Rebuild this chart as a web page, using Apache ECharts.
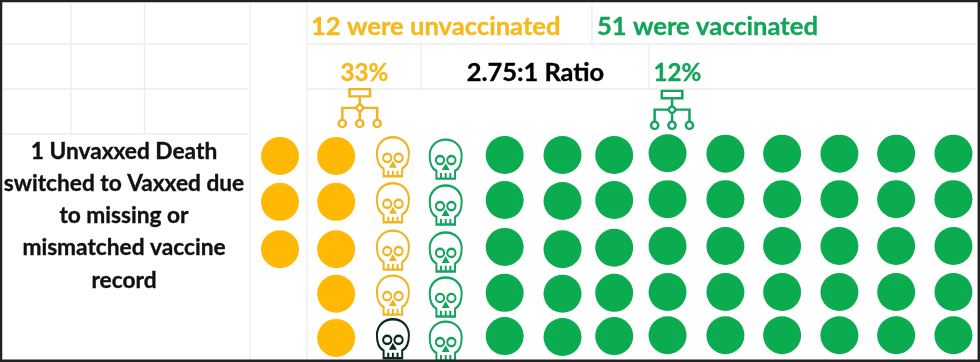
<!DOCTYPE html>
<html>
<head>
<meta charset="utf-8">
<style>html,body{margin:0;padding:0;background:#fff}#c{width:980px;height:362px}</style>
<script src="https://cdn.jsdelivr.net/npm/echarts@6/dist/echarts.min.js"></script>
</head>
<body>
<div id="c"></div>
<script>
// Seat layout of the pictogram: fractional column / row of each seat
const columnSeats = [0, 1, 2.01, 2.95, 4, 5.03, 5.95, 6.9, 7.93, 8.94, 9.96, 10.97, 11.99];
const rowsCol0 = [0.02, 1.03, 2.07];
const rowsCol1 = [0.02, 1.03, 2.07, 3.05, 4.02];
const rowsCol2 = [0.04, 1.05, 2.09, 3.08];
const rowsCol2Switched = [4.04];
const rowsCol3 = [0.09, 1.1, 2.13, 3.12, 4.09];
const rowsCol4 = [0, 0.99, 2.02, 3.03, 3.98];
const rowsCol5 = [0, 1.01, 2.07, 3.05, 4];
const rowsCol6 = [0, 0.99, 2.04, 3.03, 3.98];
const rowsCol7 = [-0.04, 0.97, 2, 3.01, 3.96];
const rowsRest = [-0.03, 0.97, 2, 3.01, 3.96];

const headUnvaccinated = '12 were unvaccinated';
const headVaccinated = '51 were vaccinated';
const pctUnvaccinated = '33%';
const pctVaccinated = '12%';
const ratioText = '2.75:1 Ratio';
const noteLines = ['1 Unvaxxed Death', 'switched to Vaxxed due', 'to missing or', 'mismatched vaccine', 'record'];

const GOLD = '#FFB905', GREEN = '#0BAC50', GOLD_T = '#F6B91C', GREEN_T = '#12A55A', DARK = '#0A2A1C';
const FONT = 'Lato';

const seats = (col, rows) => rows.map(r => [columnSeats[col], r]);

const SKULL = 'path://M7 38.5H25V31C29 29 31.5 24 31.5 16C31.5 7 25 .5 16 .5C7 .5 .5 7 .5 16C.5 24 3 29 7 31ZM11.5 33V38.5M16 33V38.5M20.5 33V38.5' +
  'M14.5 20.5A4 4 0 1 1 6.5 20.5A4 4 0 1 1 14.5 20.5ZM25.5 20.5A4 4 0 1 1 17.5 20.5A4 4 0 1 1 25.5 20.5ZM16 25.5L18 29H14Z';
const TREE = 'path://M11 1H31V8H11ZM21 8V15M21 15L25 19L21 23L17 19ZM17 19H4V30.5M25 19H38V30.5M21 23V30.5' +
  'M7.5 34A3.5 3.5 0 1 1 .5 34A3.5 3.5 0 1 1 7.5 34ZM24.5 34A3.5 3.5 0 1 1 17.5 34A3.5 3.5 0 1 1 24.5 34ZM41.5 34A3.5 3.5 0 1 1 34.5 34A3.5 3.5 0 1 1 41.5 34Z';

const dots = (name, color, data, size) => ({
  name, type: 'scatter', data, symbol: 'circle', symbolSize: size, clip: false,
  silent: true, itemStyle: { color, opacity: 1 }
});
const outline = (name, color, data, symbol, size) => ({
  name, type: 'scatter', data, symbol, symbolSize: size, clip: false, silent: true,
  itemStyle: { color: 'rgba(0,0,0,0)', borderColor: color, borderWidth: 2.2, opacity: 1 }
});

const rules = [
  [3, 44, 248, 44], [307, 44, 976, 44], [3, 89, 248, 89], [307, 89, 976, 89], [3, 134, 248, 134],
  [71, 3, 71, 134], [144.5, 3, 144.5, 134], [250, 3, 250, 360], [307, 3, 307, 360],
  [592, 3, 592, 44], [421, 44, 421, 89], [649, 44, 649, 89]
];
const frame = [[0, 1, 980, 1, 2.5], [1, 0, 1, 362, 2.5], [0, 360.8, 980, 360.8, 2.5], [978.8, 0, 978.8, 362, 2.5]];

const graphic = [];
rules.forEach(r => graphic.push({ type: 'line', silent: true, z: -2,
  shape: { x1: r[0], y1: r[1], x2: r[2], y2: r[3] }, style: { stroke: '#ececec', lineWidth: 1.3 } }));
frame.forEach(r => graphic.push({ type: 'line', silent: true, z: 10,
  shape: { x1: r[0], y1: r[1], x2: r[2], y2: r[3] }, style: { stroke: '#222', lineWidth: r[4] } }));
const txt = (text, x, y, fill, size, align) => graphic.push({ type: 'text', silent: true, z: 5, x, y,
  style: { text, fill, stroke: fill, lineWidth: 0.35, font: `bold ${size}px ${FONT}`, textAlign: align, textVerticalAlign: 'middle' } });
txt(headUnvaccinated, 311, 27, GOLD_T, 25.6, 'left');
txt(headVaccinated, 597, 27, GREEN_T, 25.6, 'left');
txt(pctUnvaccinated, 364.5, 73, GOLD_T, 24.2, 'center');
txt(pctVaccinated, 677.5, 73, GREEN_T, 24.2, 'center');
txt(ratioText, 535.5, 73, '#000', 25.4, 'center');
noteLines.forEach((line, i) => txt(line, 124, 151.5 + i * 32.2, '#111', 22.7, 'center'));

const chart = echarts.init(document.getElementById('c'), null, { renderer: 'canvas' });
chart.setOption({
  animation: false,
  backgroundColor: '#fff',
  grid: { left: 280, right: 26, top: 155, bottom: 25 },
  xAxis: { type: 'value', min: 0, max: 12, show: false },
  yAxis: { type: 'value', min: 0, max: 4, inverse: true, show: false },
  graphic,
  series: [
    dots('Unvaccinated', GOLD, [...seats(0, rowsCol0), ...seats(1, rowsCol1)], 38),
    outline('Unvaccinated deaths', '#EFB422', seats(2, rowsCol2), SKULL, [32, 39]),
    outline('Switched death', DARK, seats(2, rowsCol2Switched), SKULL, [32, 39]),
    outline('Vaccinated deaths', '#16A35F', seats(3, rowsCol3), SKULL, [32, 39]),
    dots('Vaccinated', GREEN, [
      ...seats(4, rowsCol4), ...seats(5, rowsCol5), ...seats(6, rowsCol6), ...seats(7, rowsCol7),
      ...seats(8, rowsRest), ...seats(9, rowsRest), ...seats(10, rowsRest), ...seats(11, rowsRest), ...seats(12, rowsRest)
    ], 38),
    {
      type: 'scatter', name: 'Fatality rate icons', silent: true, clip: false, symbol: TREE, symbolSize: [42, 38],
      data: [
        { value: [1.42, -1.03], itemStyle: { color: 'rgba(0,0,0,0)', borderColor: '#EFB422', borderWidth: 2.4, opacity: 1 } },
        { value: [6.98, -0.99], itemStyle: { color: 'rgba(0,0,0,0)', borderColor: '#16A35F', borderWidth: 2.4, opacity: 1 } }
      ]
    }
  ]
});
</script>
</body>
</html>
